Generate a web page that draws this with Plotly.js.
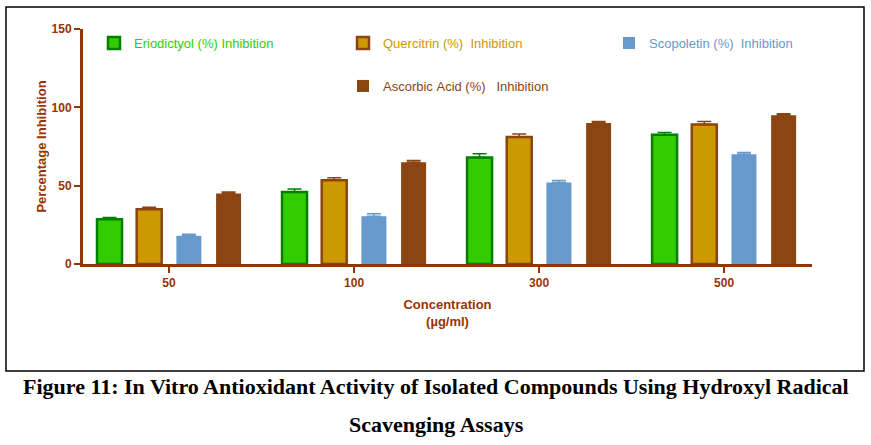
<!DOCTYPE html>
<html>
<head>
<meta charset="utf-8">
<script src="https://cdn.plot.ly/plotly-3.0.1.min.js"></script>
<style>html,body{margin:0;padding:0;background:#fff;}#chart{width:871px;height:445px;}</style>
</head>
<body>
<div id="chart"></div>
<script>
var categories = ['50', '100', '300', '500'];
var eriodictyol = [28.5, 46, 68, 82.5];
var eriodictyolErr = [1.2, 1.8, 2.3, 1.5];
var quercitrin = [35, 53.5, 81, 89];
var quercitrinErr = [1.3, 1.5, 2.0, 2.0];
var scopoletin = [18, 30.5, 52, 70];
var scopoletinErr = [1.0, 1.5, 1.3, 1.2];
var ascorbic = [45, 65, 90, 95];
var ascorbicErr = [1.0, 1.0, 1.0, 0.9];
var seriesNames = ['Eriodictyol (%) Inhibition', 'Quercitrin (%)  Inhibition', 'Scopoletin (%)  Inhibition', 'Ascorbic Acid (%)   Inhibition'];

var brown = '#8B4513';
var axisCol = '#993300';

function mk(y, err, name, fill, line, lw, errCol, legendId, textCol) {
  return {
    type: 'bar', x: categories, y: y, name: '<span style="color:' + textCol + '">' + name.replace(/ /g, '&nbsp;') + '</span>',
    marker: {color: fill, line: {color: line, width: lw}},
    error_y: {type: 'data', array: err, arrayminus: err.map(function(){return 0;}), symmetric: false, color: errCol, thickness: 1.5, width: 7},
    legend: legendId
  };
}

var data = [
  mk(eriodictyol, eriodictyolErr, seriesNames[0], '#33CC00', '#008000', 2.5, '#008000', 'legend', '#33CC00'),
  mk(quercitrin, quercitrinErr, seriesNames[1], '#CC9900', brown, 2.5, brown, 'legend2', '#CC9900'),
  mk(scopoletin, scopoletinErr, seriesNames[2], '#6699CC', '#6699CC', 0, '#6699CC', 'legend3', '#6699CC'),
  mk(ascorbic, ascorbicErr, seriesNames[3], brown, brown, 0, brown, 'legend4', brown)
];

function px(x) { return (x - 83) / 729; }
function py(y) { return (264 - y) / 235; }

var legBase = {bgcolor: 'rgba(0,0,0,0)', font: {family: 'Liberation Sans, Arial, sans-serif', size: 13}, xanchor: 'left', yanchor: 'middle', itemclick: false};
function leg(x, y) { var o = JSON.parse(JSON.stringify(legBase)); o.x = px(x); o.y = py(y); return o; }

var layout = {
  width: 871, height: 445,
  margin: {l: 83, r: 59, t: 29, b: 181},
  paper_bgcolor: '#fff', plot_bgcolor: '#fff',
  barmode: 'group', bargap: 0.142, bargroupgap: 0.37,
  font: {family: 'Liberation Sans, Arial, sans-serif', color: axisCol},
  showlegend: true,
  legend: leg(94, 43),
  legend2: leg(343, 43),
  legend3: leg(609, 43),
  legend4: leg(343, 86),
  xaxis: {
    type: 'category', range: [-0.465, 3.475], showgrid: false, zeroline: false,
    showline: true, linecolor: axisCol, linewidth: 3,
    ticks: 'outside', ticklen: 6, tickwidth: 2, tickcolor: axisCol,
    tickfont: {size: 12, color: axisCol, family: 'Liberation Sans, Arial, sans-serif', weight: 'bold'},
    title: {text: '<b>Concentration</b><br><b>(µg/ml)</b>', font: {size: 13, color: axisCol}, standoff: 11}
  },
  yaxis: {
    range: [0, 150], tickvals: [0, 50, 100, 150], showgrid: false, zeroline: false,
    showline: true, linecolor: axisCol, linewidth: 3,
    ticks: 'outside', ticklen: 6, tickwidth: 2, tickcolor: axisCol,
    tickfont: {size: 12, color: axisCol, family: 'Liberation Sans, Arial, sans-serif', weight: 'bold'},
    title: {text: '<b>Percentage Inhibition</b>', font: {size: 13, color: axisCol}, standoff: 3}
  },
  shapes: [{type: 'rect', xref: 'paper', yref: 'paper', x0: px(6), x1: px(864), y0: py(7), y1: py(371), line: {color: '#000', width: 1.5}, fillcolor: 'rgba(0,0,0,0)', layer: 'below'}],
  annotations: [
    {xref: 'paper', yref: 'paper', x: px(436), y: py(386), text: '<b>Figure 11: In Vitro Antioxidant Activity of Isolated Compounds Using Hydroxyl Radical</b>', showarrow: false, font: {family: 'Liberation Serif, Times New Roman, serif', size: 22, color: '#000'}, xanchor: 'center', yanchor: 'middle'},
    {xref: 'paper', yref: 'paper', x: px(436), y: py(424), text: '<b>Scavenging Assays</b>', showarrow: false, font: {family: 'Liberation Serif, Times New Roman, serif', size: 22, color: '#000'}, xanchor: 'center', yanchor: 'middle'}
  ]
};

Plotly.newPlot('chart', data, layout, {displayModeBar: false, staticPlot: true});
</script>
</body>
</html>
